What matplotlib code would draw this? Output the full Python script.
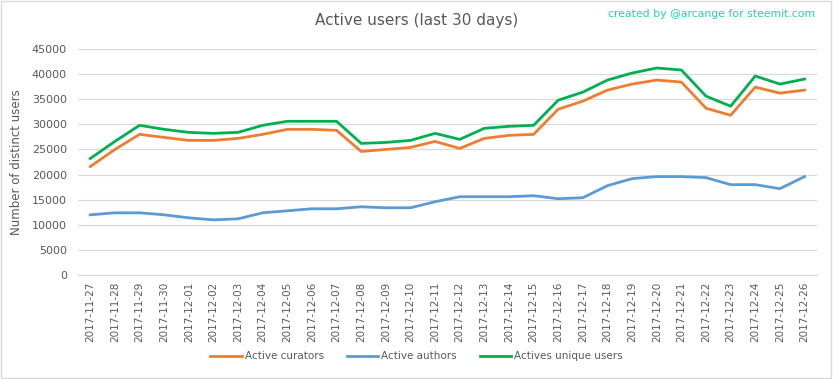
import matplotlib
matplotlib.use("Agg")
import matplotlib.pyplot as plt

# Dates of the last 30 days.
dates = ['2017-11-27', '2017-11-28', '2017-11-29', '2017-11-30', '2017-12-01', '2017-12-02',
         '2017-12-03', '2017-12-04', '2017-12-05', '2017-12-06', '2017-12-07', '2017-12-08',
         '2017-12-09', '2017-12-10', '2017-12-11', '2017-12-12', '2017-12-13', '2017-12-14',
         '2017-12-15', '2017-12-16', '2017-12-17', '2017-12-18', '2017-12-19', '2017-12-20',
         '2017-12-21', '2017-12-22', '2017-12-23', '2017-12-24', '2017-12-25', '2017-12-26']

# Values.
active_curators = [21600, 25000, 28000, 27400, 26800, 26800, 27200, 28000, 29000, 29000,
                   28800, 24600, 25000, 25400, 26600, 25200, 27200, 27800, 28000, 33000,
                   34600, 36800, 38000, 38800, 38400, 33200, 31800, 37400, 36200, 36800]
active_authors = [12000, 12400, 12400, 12000, 11400, 11000, 11200, 12400, 12800, 13200,
                  13200, 13600, 13400, 13400, 14600, 15600, 15600, 15600, 15800, 15200,
                  15400, 17800, 19200, 19600, 19600, 19400, 18000, 18000, 17200, 19600]
unique_users = [23200, 26600, 29800, 29000, 28400, 28200, 28400, 29800, 30600, 30600,
                30600, 26200, 26400, 26800, 28200, 27000, 29200, 29600, 29800, 34800,
                36400, 38800, 40200, 41200, 40800, 35600, 33600, 39600, 38000, 39000]

text_color = '#595959'

fig = plt.figure(figsize=(8.33, 3.79), dpi=100)
ax = fig.add_axes([0.0936, 0.274, 0.887, 0.597])

x = range(len(dates))
ax.plot(x, active_curators, color='#ED7D31', linewidth=2, label='Active curators')
ax.plot(x, active_authors, color='#5B9BD5', linewidth=2, label='Active authors')
ax.plot(x, unique_users, color='#00B050', linewidth=2, label='Actives unique users')

ax.set_xlim(-0.5, len(dates) - 0.5)
ax.set_ylim(0, 45000)
ax.set_yticks(range(0, 45001, 5000))
ax.set_xticks(list(x))
ax.set_xticklabels(dates, rotation=90, fontsize=7.5, color=text_color)
ax.tick_params(axis='y', labelsize=8, colors=text_color, length=0, pad=8)
ax.tick_params(axis='x', length=0, pad=5)
ax.grid(axis='y', color='#d9d9d9', linewidth=0.8)
ax.set_axisbelow(True)
for side in ['top', 'right', 'left']:
	ax.spines[side].set_visible(False)
ax.spines['bottom'].set_color('#d9d9d9')

ax.set_ylabel('Number of distinct users', fontsize=8.5, color=text_color, labelpad=6)

fig.text(0.5, 0.945, 'Active users (last 30 days)', ha='center', va='center',
         fontsize=11, color=text_color)
fig.text(0.978, 0.962, 'created by @arcange for steemit.com', ha='right', va='center',
         fontsize=7.8, color='#1fd6a6')

fig.legend(loc='center', bbox_to_anchor=(0.5, 0.06), ncol=3, frameon=False,
           fontsize=7.5, labelcolor=text_color, handlelength=3, columnspacing=2.2,
           handletextpad=0.3)

# Light frame around the whole figure.
fig.patches.append(plt.Rectangle((0.001, 0.002), 0.997, 0.995, transform=fig.transFigure,
                                 fill=False, edgecolor='#d9d9d9', linewidth=1))

fig.savefig('out.png', dpi=100)
